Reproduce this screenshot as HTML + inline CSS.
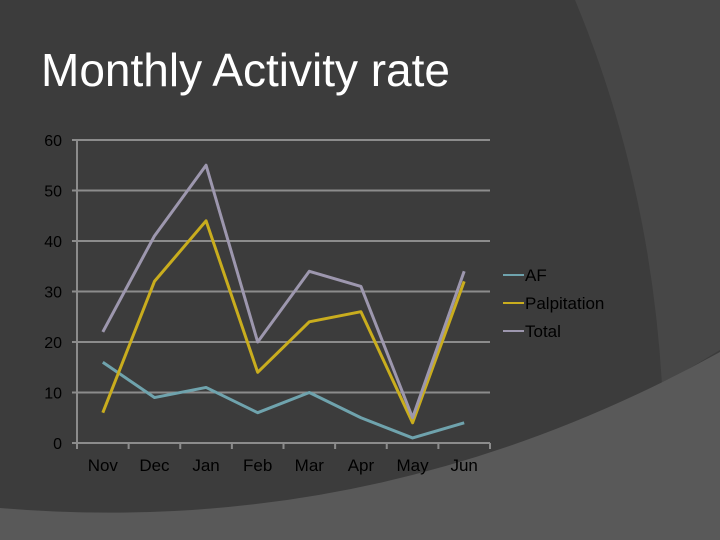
<!DOCTYPE html>
<html><head><meta charset="utf-8"><style>
body{margin:0;width:720px;height:540px;overflow:hidden;background:#3c3c3c;font-family:"Liberation Sans",Arial,sans-serif}
svg{position:absolute;left:0;top:0}
</style></head><body>
<svg width="720" height="540">
<rect width="720" height="540" fill="#3c3c3c"/>
<path d="M575,0 Q650,180 662,385 L720,350 L720,0 Z" fill="#474747"/>
<path d="M0,508 Q380,540 720,352 L720,540 L0,540 Z" fill="#595959"/>
<text x="41" y="86" font-size="46" fill="#fff" textLength="409">Monthly Activity rate</text>
<g id="chart"></g>
</svg>
<script>
const categories=["Nov","Dec","Jan","Feb","Mar","Apr","May","Jun"];
const afValues=[16,9,11,6,10,5,1,4];
const palpValues=[6,32,44,14,24,26,4,32];
const totalValues=[22,41,55,20,34,31,5,34];
const yTicks=[0,10,20,30,40,50,60];
const seriesNames=["AF","Palpitation","Total"];
const colors=["#6fa3ad","#c9ad1e","#9d97ae"];
const NS="http://www.w3.org/2000/svg";
const g=document.getElementById('chart');
const x0=77,x1=490,y0=443,y1=140,ymax=60;
const bw=(x1-x0)/categories.length;
const xs=i=>x0+bw*(i+0.5);
const ys=v=>y0-(v/ymax)*(y0-y1);
function el(t,a){const e=document.createElementNS(NS,t);for(const k in a)e.setAttribute(k,a[k]);g.appendChild(e);return e;}
yTicks.forEach(t=>{
 const l=el('line',{x1:x0-5,x2:x1,y1:ys(t),y2:ys(t),stroke:'#8c8c8c','stroke-width':2});
 
 
 const tx=el('text',{x:62,y:ys(t)+6,'font-size':16,fill:'#000','text-anchor':'end'});
 tx.textContent=t;
 
 
});
const ax=el('line',{x1:x0,x2:x0,y1:y1,y2:y0+5,stroke:'#8c8c8c','stroke-width':2});


for(let i=0;i<=categories.length;i++){
 const t=el('line',{x1:x0+bw*i,x2:x0+bw*i,y1:y0,y2:y0+6,stroke:'#8c8c8c','stroke-width':2});
 
 
}
categories.forEach((c,i)=>{
 const tx=el('text',{x:xs(i),y:471,'font-size':17,fill:'#000','text-anchor':'middle'});
 tx.textContent=c;
 
 
});
[afValues,palpValues,totalValues].forEach((vals,s)=>{
 const p=el('polyline',{points:vals.map((v,i)=>xs(i)+','+ys(v)).join(' '),fill:'none',stroke:colors[s],'stroke-width':3,'stroke-linejoin':'round'});
 
 
 const ly=275+s*28;
 const ll=el('line',{x1:503,x2:524,y1:ly,y2:ly,stroke:colors[s],'stroke-width':2});
 
 
 const lt=el('text',{x:525,y:ly+6,'font-size':17,fill:'#000'});
 lt.textContent=seriesNames[s];
 
 
});
</script>
</body></html>
